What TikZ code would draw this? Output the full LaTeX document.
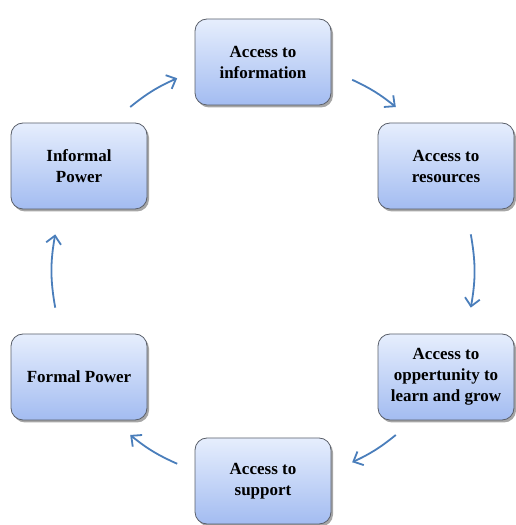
\documentclass[tikz,border=0pt]{standalone}
\usepackage{fontspec}
\setmainfont{Liberation Serif}
\usetikzlibrary{arrows.meta,shadows}
\definecolor{boxtop}{HTML}{E6EEFD}
\definecolor{boxbot}{HTML}{A3BCF1}
\definecolor{boxline}{HTML}{5A5F6A}
\definecolor{flowblue}{HTML}{4A7EBB}
\tikzset{
  powerbox/.style={draw=boxline, line width=0.8pt, rounded corners=12pt,
    top color=boxtop, bottom color=boxbot,
    minimum width=136pt, minimum height=86pt, align=center,
    font=\fontsize{17}{21}\selectfont\bfseries,
    drop shadow={shadow xshift=2pt, shadow yshift=-2.5pt, opacity=0.35, fill=black}},
  flow/.style={draw=flowblue, line width=1.8pt,
    -{Straight Barb[length=8pt,width=15pt,line width=1.8pt]}}
}
\begin{document}
\begin{tikzpicture}[x=1pt,y=1pt]
\useasboundingbox (0,0) rectangle (515,525);
\coordinate (ctr) at (263,254);
%boxes
\node[powerbox] (info) at (263,463) {Access to\\information};
\node[powerbox] (resources) at (446,359) {Access to\\resources};
\node[powerbox] (opport) at (446,148) {Access to\\oppertunity to\\learn and grow};
\node[powerbox] (support) at (263,44) {Access to\\support};
\node[powerbox] (formal) at (79,148) {Formal Power};
\node[powerbox] (informal) at (79,359) {Informal\\Power};
%arrows
\foreach \i/\a/\b in {1/129/114, 2/65/51, 3/10/-10, 4/-51/-65, 5/-114/-129, 6/-170/-190}{
  \coordinate (s\i) at ([shift={(ctr)}]\a:211);
  \coordinate (e\i) at ([shift={(ctr)}]\b:211);
}
\draw[flow] (s1) to[bend left=7.5] (e1);
\draw[flow] (s2) to[bend left=7] (e2);
\draw[flow] (s3) to[bend left=10] (e3);
\draw[flow] (s4) to[bend left=7] (e4);
\draw[flow] (s5) to[bend left=7.5] (e5);
\draw[flow] (s6) to[bend left=10] (e6);
\end{tikzpicture}
\end{document}
